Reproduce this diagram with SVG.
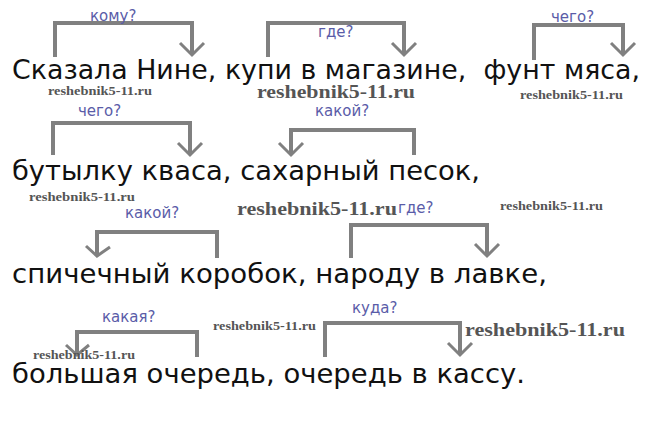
<svg xmlns="http://www.w3.org/2000/svg" width="667" height="432" viewBox="0 0 667 432">
<style>
.t{font-family:"DejaVu Sans",Verdana,sans-serif;font-size:27px;fill:#111}
.q{font-family:"DejaVu Sans",Verdana,sans-serif;font-size:15px;fill:#5a5ca8}
.br{fill:none;stroke:#808080;stroke-width:4}
.ar{fill:none;stroke:#808080;stroke-width:3}
.w{font-family:"Liberation Serif",serif;font-weight:bold;fill:#555}
.ws{font-size:12px}
.wl{font-size:19px}
</style>
<rect width="667" height="432" fill="#fff"/>
<g id="connectors">
<path class="br" d="M55,57V23H192V55"/><path class="ar" d="M180,43L192,55L204,43"/>
<path class="br" d="M268,57V23H404V55"/><path class="ar" d="M392,43L404,55L416,43"/>
<path class="br" d="M534,60V25H623V55"/><path class="ar" d="M611,43L623,55L635,43"/>
<path class="br" d="M53,155V123H190V155"/><path class="ar" d="M178,143L190,155L202,143"/>
<path class="br" d="M414,155V130H291V155"/><path class="ar" d="M279,143L291,155L303,143"/>
<path class="br" d="M217,258V232H97V256"/><path class="ar" d="M86,246L97,256L110,247"/>
<path class="br" d="M351,258V225H487V256"/><path class="ar" d="M475,244L487,256L499,244"/>
<path class="br" d="M197,357V332H77V355"/><path class="ar" d="M66,345L77,355L89,345"/>
<path class="br" d="M325,357V323H460V355"/><path class="ar" d="M448,343L460,355L472,343"/>
</g>
<g id="labels">
<text class="q" x="90" y="21">кому?</text>
<text class="q" x="318" y="37">где?</text>
<text class="q" x="551" y="22">чего?</text>
<text class="q" x="78" y="116">чего?</text>
<text class="q" x="315" y="116">какой?</text>
<text class="q" x="125" y="218">какой?</text>
<text class="q" x="398" y="213">где?</text>
<text class="q" x="102" y="322">какая?</text>
<text class="q" x="352" y="313">куда?</text>
</g>
<g id="line1"><text class="t" x="12" y="79" xml:space="preserve" textLength="628" lengthAdjust="spacingAndGlyphs">Сказала Нине, купи в магазине,  фунт мяса,</text></g>
<g id="line2"><text class="t" x="12" y="180" textLength="468" lengthAdjust="spacingAndGlyphs">бутылку кваса, сахарный песок,</text></g>
<g id="line3"><text class="t" x="12" y="283" textLength="535" lengthAdjust="spacingAndGlyphs">спичечный коробок, народу в лавке,</text></g>
<g id="line4"><text class="t" x="12" y="383" textLength="513" lengthAdjust="spacingAndGlyphs">большая очередь, очередь в кассу.</text></g>
<g id="watermarks">
<text class="w ws" x="48" y="95" textLength="104" lengthAdjust="spacingAndGlyphs">reshebnik5-11.ru</text>
<text class="w wl" x="257" y="98" textLength="158" lengthAdjust="spacingAndGlyphs">reshebnik5-11.ru</text>
<text class="w ws" x="520" y="99" textLength="103" lengthAdjust="spacingAndGlyphs">reshebnik5-11.ru</text>
<text class="w ws" x="29" y="201" textLength="106" lengthAdjust="spacingAndGlyphs">reshebnik5-11.ru</text>
<text class="w wl" x="237" y="215" textLength="160" lengthAdjust="spacingAndGlyphs">reshebnik5-11.ru</text>
<text class="w ws" x="500" y="210" textLength="103" lengthAdjust="spacingAndGlyphs">reshebnik5-11.ru</text>
<text class="w ws" x="213" y="330" textLength="103" lengthAdjust="spacingAndGlyphs">reshebnik5-11.ru</text>
<text class="w ws" x="33" y="359" textLength="102" lengthAdjust="spacingAndGlyphs">reshebnik5-11.ru</text>
<text class="w wl" x="465" y="336" textLength="160" lengthAdjust="spacingAndGlyphs">reshebnik5-11.ru</text>
</g>
</svg>
